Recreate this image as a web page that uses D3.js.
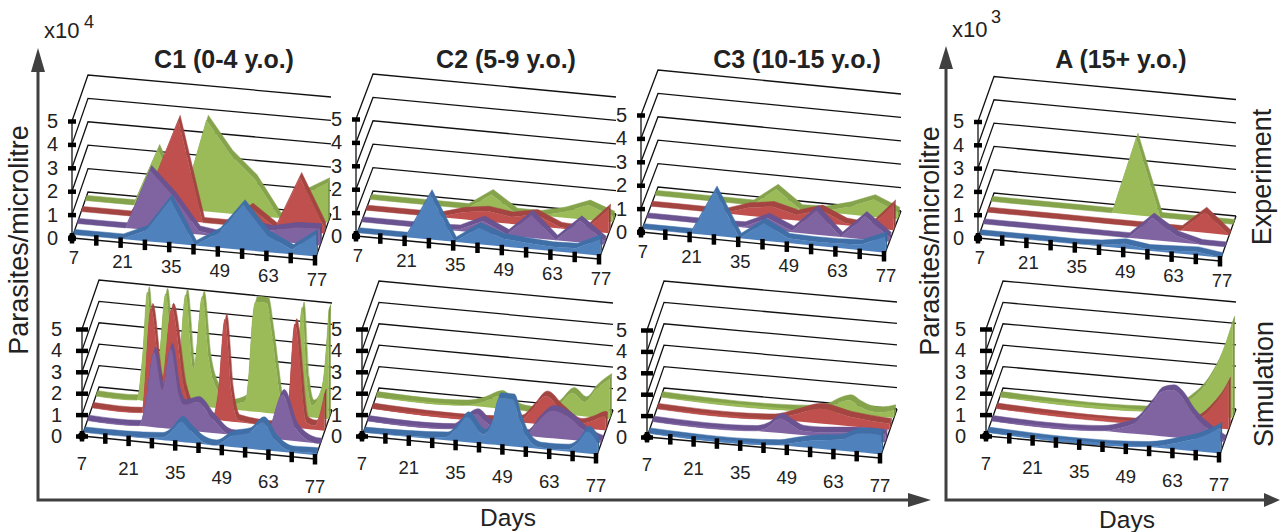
<!DOCTYPE html>
<html><head><meta charset="utf-8">
<script src="https://d3js.org/d3.v7.min.js"></script>
<style>html,body{margin:0;padding:0;background:#fff}svg{display:block}text{font-family:"Liberation Sans",Arial,sans-serif;fill:#222}</style>
</head><body><svg id="c" width="1280" height="532"></svg>
<script>
// ---- axis content
const dayTicks = [7,14,21,28,35,42,49,56,63,70,77];
const dayLabels = [7,21,35,49,63,77];
const levels = [0,1,2,3,4,5];
const seriesNames = ["blue","purple","red","green"];
const panelTitles = ["C1 (0-4 y.o.)","C2 (5-9 y.o.)","C3 (10-15 y.o.)","A (15+ y.o.)"];

// ---- experiment: one value per entry of dayTicks
const expC1Blue   = [0,0,0,.45,1.87,0,.64,1.93,.7,.2,.95];
const expC1Purple = [0,0,0,2.55,1.5,.15,0,.6,.45,.68,.72];
const expC1Red    = [0,0,0,1.6,4.27,0,0,.8,.05,2.3,.25];
const expC1Green  = [0,0,0,2.46,.2,3.9,2.5,1.55,0,1.1,1.7];
const expC2Blue   = [0,0,0,1.92,0,.7,.33,.25,.18,.22,.7];
const expC2Purple = [0,0,0,0,.05,.53,.05,.98,0,.93,.15];
const expC2Red    = [0,0,0,0,.3,.45,.3,.5,.05,0,1.03];
const expC2Green  = [0,0,0,0,0,.7,0,0,.25,.64,.26];
const expC3Blue   = [0,0,0,1.92,0,.75,.2,.17,.18,.25,.68];
const expC3Purple = [0,0,0,0,.03,.5,.05,1.03,0,.98,.2];
const expC3Red    = [0,0,0,0,.34,.5,.24,.55,.1,0,1.08];
const expC3Green  = [0,0,0,0,0,.77,0,.05,.33,.74,.3];
const expABlue    = [0,0,0,0,0,.05,.2,.05,.1,.15,0];
const expAPurple  = [0,0,0,0,0,0,0,.94,.27,0,0];
const expARed     = [0,0,0,0,0,0,0,0,0,.89,0];
const expAGreen   = [0,0,0,0,0,0,3.3,0,0,0,0];

// ---- simulation: days read at the curve's turning points, and values there
const simC1BlueD   = [7,30.4,33,36.4,39,42.4,46.6,51.5,56.7,60.8,64.7,69.5,75.5,77];
const simC1BlueV   = [0,.1,.35,.95,.6,.15,0,.5,.73,1.3,.5,.07,.1,.1];
const simC1PurpleD = [7,22.6,24.5,27,29.5,32,34.5,36,40,44.6,49.7,60,61.6,65.6,69.8,75.7,77];
const simC1PurpleV = [0,0,1.1,3.5,1.77,3.75,1.6,1.18,1.38,.65,0,0,.4,2.1,.55,0,0];
const simC1RedD    = [7,22,24.8,28,31,35,38,43,45,47,49,51,64,66,68,71.6,74,76.9];
const simC1RedV    = [0,0,4.9,1.5,5,1.2,.2,0,1.3,4.75,1.3,.1,0,.9,4.85,.3,.2,1.7];
const simC1GreenD  = [7,19.3,21,22.5,24,25.5,28,30,31.5,34,36.4,39,41,44,47,52,53,54,55,58.3,60,61.4,63,65.5,67.4,69,70.5,72,75,77];
const simC1GreenV  = [0,0,2,5.1,2.2,1.5,5.1,1.8,1.2,5.15,1.7,5.14,2.2,.7,.2,.5,1.8,4.2,5.14,5.14,3.6,1.9,.4,.4,2,5.1,1.6,.56,1.5,5.1];
const simC2BlueD   = [7,31.8,35,38,43,45.5,47.7,51.7,53.5,56,59.8,68,71,74,77];
const simC2BlueV   = [0,.14,.6,1.17,.43,1,2.2,2.2,1.4,.48,.07,.1,.4,1.03,.56];
const simC2PurpleD = [7,32.4,35,39.6,43,50,54.6,58,62.3,67.4,72.5,77];
const simC2PurpleV = [0,0,.3,.8,.4,.1,.05,.7,1.28,1.03,.4,.1];
const simC2RedD    = [7,48,51.6,55,59,63.7,69.5,73,76.5,77];
const simC2RedV    = [0,0,.1,.65,1.33,.75,.2,.38,.64,.6];
const simC2GreenD  = [7,34,38.7,44.4,47,50.4,56,61.6,65.8,69.5,72.8,77];
const simC2GreenV  = [0,0,.2,.6,.35,.03,0,.4,1.05,.68,1.3,1.87];
const simC3BlueD   = [7,46,51.5,58.4,64.4,70.4,74,77];
const simC3BlueV   = [0,0,.2,.4,.5,.88,.92,.88];
const simC3PurpleD = [7,38,41.5,45.5,48.5,52,59,67,77];
const simC3PurpleV = [0,0,.2,.68,.45,.2,.22,.33,.36];
const simC3RedD    = [7,42,47.9,56,65,77];
const simC3RedV    = [0,0,.28,.69,.44,.28];
const simC3GreenD  = [7,52,57,60,63.7,66.5,69.8,73,77];
const simC3GreenV  = [0,0,.18,.45,.65,.42,.23,.22,.37];
const simABlueD    = [7,55,64.6,70.7,77];
const simABlueV    = [0,0,.34,.65,1.2];
const simAPurpleD  = [7,40,45.5,50,55.3,58,61.4,64,67.4,73.5,77];
const simAPurpleV  = [0,0,.2,.5,1.5,2.05,2.2,1.95,1.2,.37,.05];
const simARedD     = [7,62,68,72,75,77];
const simARedV     = [0,0,.34,.96,1.6,2.2];
const simAGreenD   = [7,56,63.7,69.8,73.5,77];
const simAGreenV   = [0,0,.6,1.68,2.85,4.5];

// ---- styling and layout, kept apart from the values
const faceColor  = {blue:"#4f81bd",purple:"#8064a2",red:"#c0504d",green:"#9bbb59"};
const topColor   = {blue:"#3f6fa6",purple:"#6a5390",red:"#a44542",green:"#85a34b"};
const sideColor  = {blue:"#3a6595",purple:"#5f4a82",red:"#93403c",green:"#7a9544"};
const seriesDepth = {blue:.13,purple:.37,red:.63,green:.87};
const halfRibbon = .055;
const panels = [
 {row:0,col:0,ox:72, oy:238,w:243,dy:22,bx:16,by:-46,u:23.4},
 {row:0,col:1,ox:356,oy:236,w:243,dy:23,bx:17,by:-45,u:23.4},
 {row:0,col:2,ox:641,oy:232,w:243,dy:24,bx:17,by:-45,u:23.4},
 {row:0,col:3,ox:978,oy:238,w:242,dy:23,bx:16,by:-45,u:23.3},
 {row:1,col:0,ox:82, oy:436,w:233,dy:23,bx:17,by:-49,u:21.4},
 {row:1,col:1,ox:362,oy:436,w:234,dy:22,bx:17,by:-48,u:21.4},
 {row:1,col:2,ox:647,oy:437,w:233,dy:21,bx:17,by:-49,u:21.4},
 {row:1,col:3,ox:986,oy:436,w:233,dy:21,bx:17,by:-48,u:21.4}
];
const expTable = [
 {blue:expC1Blue,purple:expC1Purple,red:expC1Red,green:expC1Green},
 {blue:expC2Blue,purple:expC2Purple,red:expC2Red,green:expC2Green},
 {blue:expC3Blue,purple:expC3Purple,red:expC3Red,green:expC3Green},
 {blue:expABlue,purple:expAPurple,red:expARed,green:expAGreen}
];
const simTable = [
 {blue:[simC1BlueD,simC1BlueV],purple:[simC1PurpleD,simC1PurpleV],red:[simC1RedD,simC1RedV],green:[simC1GreenD,simC1GreenV]},
 {blue:[simC2BlueD,simC2BlueV],purple:[simC2PurpleD,simC2PurpleV],red:[simC2RedD,simC2RedV],green:[simC2GreenD,simC2GreenV]},
 {blue:[simC3BlueD,simC3BlueV],purple:[simC3PurpleD,simC3PurpleV],red:[simC3RedD,simC3RedV],green:[simC3GreenD,simC3GreenV]},
 {blue:[simABlueD,simABlueV],purple:[simAPurpleD,simAPurpleV],red:[simARedD,simARedV],green:[simAGreenD,simAGreenV]}
];

const svg = d3.select("#c");
const dark = "#404040";

panels.forEach(p => {
  const g = svg.append("g");
  const tScale = d3.scaleLinear().domain([7,77]).range([0,1]);
  const vScale = d3.scaleLinear().domain([0,5]).range([0,-5*p.u]);
  const px = (day,s) => p.ox + tScale(day)*p.w + s*p.bx;
  const py = (day,s,v) => p.oy + tScale(day)*p.dy + s*p.by + vScale(v);
  const seg = d3.line();

  // walls and floor
  const thin = {fill:"none",stroke:"#111","stroke-width":1.3};
  const path = (pts,attrs) => { const e=g.append("path").attr("d",seg(pts)); Object.entries(attrs).forEach(([k,v])=>e.attr(k,v)); return e; };
  levels.forEach(v => {
    path([[px(7,0),py(7,0,v)],[px(7,1),py(7,1,v)],[px(77,1),py(77,1,v)]],thin);
  });
  path([[px(77,0),py(77,0,0)],[px(77,1),py(77,1,0)]],thin);
  path([[px(7,0),py(7,0,0)],[px(7,0),py(7,0,5)]],thin);

  // ribbons, back to front
  const curve = p.row===1 ? d3.curveMonotoneX : d3.curveLinear;
  seriesNames.slice().reverse().forEach(name => {
    const pts = p.row===0
      ? dayTicks.map((d,i)=>({d,v:expTable[p.col][name][i]}))
      : simTable[p.col][name][0].map((d,i)=>({d,v:simTable[p.col][name][1][i]}));
    const s0 = seriesDepth[name]-halfRibbon, s1 = seriesDepth[name]+halfRibbon;
    const strip = d3.area().curve(curve)
      .x0(a=>px(a.d,s1)).y0(a=>py(a.d,s1,a.v))
      .x1(a=>px(a.d,s0)).y1(a=>py(a.d,s0,a.v));
    g.append("path").attr("d",strip(pts)).attr("fill",topColor[name]).attr("stroke",topColor[name]).attr("stroke-width",.5);
    const last = pts[pts.length-1];
    g.append("path").attr("d",seg([
      [px(last.d,s0),py(last.d,s0,last.v)],[px(last.d,s1),py(last.d,s1,last.v)],
      [px(last.d,s1),py(last.d,s1,0)],[px(last.d,s0),py(last.d,s0,0)]])+"Z").attr("fill",sideColor[name]);
    const face = d3.area().curve(curve)
      .x(a=>px(a.d,s0)).y0(a=>py(a.d,s0,0)).y1(a=>py(a.d,s0,a.v));
    g.append("path").attr("d",face(pts)).attr("fill",faceColor[name]);
  });

  // front axis with ticks
  path([[px(7,0),py(7,0,0)],[px(77,0),py(77,0,0)]],{fill:"none",stroke:"#111","stroke-width":1.4});
  g.selectAll("line.xt").data(dayTicks).join("line").attr("class","xt")
    .attr("x1",d=>px(d,0)).attr("x2",d=>px(d,0))
    .attr("y1",d=>py(d,0,0)-5).attr("y2",d=>py(d,0,0)+5.5)
    .attr("stroke","#000").attr("stroke-width",4.5);
  g.append("circle").attr("cx",p.ox).attr("cy",p.oy).attr("r",4).attr("fill","#000");
  const labelOff = p.row===0 ? 19.5 : 27.5, labelShift = p.row===0 ? 2 : 0;
  g.selectAll("text.xl").data(dayLabels).join("text").attr("class","xl")
    .attr("x",d=>px(d,0)+labelShift).attr("y",d=>py(d,0,0)+labelOff).attr("dy",".35em")
    .attr("text-anchor","middle").attr("font-size",18.5).text(d=>d);

  // value axis
  const barW = p.row===0 ? 8 : 12;
  const ax = d3.axisLeft(vScale).tickValues(levels).tickFormat(d3.format("d"))
    .tickSize(barW).tickPadding(p.row===0?10:14);
  const ag = g.append("g").attr("transform",`translate(${p.ox+barW/2},${p.oy})`).call(ax);
  ag.select(".domain").remove();
  ag.selectAll("line").attr("stroke","#000").attr("stroke-width",4.5);
  ag.selectAll("text").attr("font-size",20).style("font-family","'Liberation Sans',Arial,sans-serif").attr("fill","#222");
});

// titles
[224,506,797,1121].forEach((x,i)=>{
  svg.append("text").attr("x",x).attr("y",68).attr("text-anchor","middle")
    .attr("font-size",25).attr("font-weight","bold").text(panelTitles[i]);
});
// frames
const arrowUp = (x,tip,base)=>`M${x},${tip}L${x-7},${base}L${x+7},${base}Z`;
const arrowRight = (tip,base,y)=>`M${tip},${y}L${base},${y-7}L${base},${y+7}Z`;
[[38,48,72,931,908],[946,46,69,1280,1264]].forEach(([x,tip,base,xtip,xbase])=>{
  svg.append("path").attr("d",`M${x},${base}L${x},500L${xbase},500`).attr("fill","none").attr("stroke",dark).attr("stroke-width",3);
  svg.append("path").attr("d",arrowUp(x,tip,base)).attr("fill",dark);
  svg.append("path").attr("d",arrowRight(xtip,xbase,500)).attr("fill",dark);
});
const rotated = (x,y,t,size)=>svg.append("text").attr("transform",`translate(${x},${y}) rotate(-90)`)
  .attr("text-anchor","middle").attr("font-size",size).text(t);
rotated(28,240,"Parasites/microlitre",27);
rotated(939,241,"Parasites/microlitre",27);
rotated(1271,177,"Experiment",27);
rotated(1273,384,"Simulation",27);
svg.append("text").attr("x",508).attr("y",526).attr("text-anchor","middle").attr("font-size",24.5).text("Days");
svg.append("text").attr("x",1127).attr("y",528).attr("text-anchor","middle").attr("font-size",24.5).text("Days");
[[44,38,"x10",84,28,"4"],[952,37,"x10",991,23,"3"]].forEach(([x,y,t,sx,sy,s])=>{
  svg.append("text").attr("x",x).attr("y",y).attr("font-size",22).text(t);
  svg.append("text").attr("x",sx).attr("y",sy).attr("font-size",18).text(s);
});
</script></body></html>
